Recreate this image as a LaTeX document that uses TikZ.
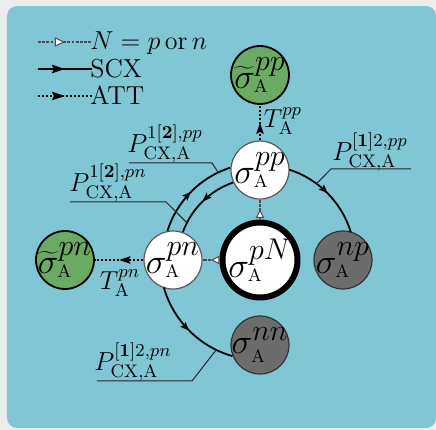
\RequirePackage{fix-cm}
\documentclass[tikz,border=0pt]{standalone}
\usetikzlibrary{arrows.meta,decorations.markings,calc}
\definecolor{bgout}{RGB}{235,236,238}
\definecolor{panel}{RGB}{128,198,212}
\definecolor{gfill}{RGB}{106,170,98}
\definecolor{dfill}{RGB}{108,108,108}
\newcommand{\sgm}[2]{$#1^{\mbox{\fontsize{15}{15}\selectfont$#2$}}_{\mbox{\fontsize{9}{9}\selectfont A}}$}
\begin{document}
\begin{tikzpicture}[x=0.5pt,y=0.5pt,
  midarrow/.style={postaction={decorate},decoration={markings,mark=at position 0.5 with {\arrow{#1}}}},
  wnode/.style={circle,draw=black!65,fill=white,line width=0.6pt,minimum size=29pt,inner sep=0pt},
  gnode/.style={circle,draw=black,fill=gfill,line width=0.9pt,minimum size=29pt,inner sep=0pt},
  dnode/.style={circle,draw=black!80,fill=dfill,line width=0.6pt,minimum size=29pt,inner sep=0pt},
  bignode/.style={circle,draw=black,fill=white,line width=3pt,minimum size=37.5pt,inner sep=0pt},
  sig/.style={inner sep=0pt,font=\fontsize{17.5}{20}\selectfont},
  txt/.style={inner sep=0.5pt,font=\fontsize{13}{15}\selectfont},
  ndash/.style={draw=black!70,line width=0.7pt,dash pattern=on 1.4pt off 0.7pt},
  scx/.style={draw=black,line width=0.9pt},
  att/.style={draw=black,line width=1.1pt,dash pattern=on 1pt off 1pt},
  leader/.style={draw=black!85,line width=0.5pt},
  wtri/.tip={Triangle[fill=white,length=4.2pt,width=4.2pt,line width=0.5pt]},
  btri/.tip={Stealth[length=5.5pt,width=3.6pt,inset=0.8pt]},
  stri/.tip={Stealth[length=4.5pt,width=3.4pt,inset=0.8pt]}
]
\useasboundingbox (0,0) rectangle (436,430);
\fill[bgout] (0,0) rectangle (436,430);
\fill[panel,rounded corners=5pt] (7,2) rectangle (436,424);

% nodes
\node[bignode,label={[sig]center:\sgm{\sigma}{pN}}] (pN) at (260,170) {};
\node[wnode,label={[sig]center:\sgm{\sigma}{pp}}] (pp) at (260,260) {};
\node[wnode,label={[sig]center:\sgm{\sigma}{pn}}] (pn) at (173,170) {};
\node[dnode,label={[sig]center:\sgm{\sigma}{np}}] (np) at (343,170) {};
\node[dnode,label={[sig]center:\sgm{\sigma}{nn}}] (nn) at (260,85) {};
\node[gnode,label={[sig]center:\sgm{\widetilde{\sigma}}{pp}}] (gpp) at (260,355) {};
\node[gnode,label={[sig]center:\sgm{\widetilde{\sigma}}{pn}}] (gpn) at (65,170) {};

% N connectors
\draw[ndash,midarrow=wtri] (pN) -- (pp);
\draw[ndash,midarrow=wtri] (pN) -- (pn);

% ATT connectors
\draw[att,midarrow=btri] (pp) -- (gpp);
\draw[att,midarrow=btri] (pn) -- (gpn);
\node[txt] (tpp) at (283,309) {$T^{pp}_{\mathrm{A}}$};
\node[txt] (tpn) at (120,147) {$T^{pn}_{\mathrm{A}}$};

% SCX arcs
\coordinate (C) at (pN.center);
\draw[scx,midarrow=stri] ($(C)+(162.5:97)$) arc[start angle=162.5,end angle=108,radius=97];
\draw[scx,midarrow=stri] ($(C)+(109:82)$) arc[start angle=109,end angle=160,radius=82];
\draw[scx,midarrow=stri] ($(C)+(72:95)$) arc[start angle=72,end angle=17,radius=95];
\draw[scx,midarrow=stri] ($(C)+(196:100)$) arc[start angle=196,end angle=254,radius=100];

% leader lines and labels
\coordinate (k1) at ($(C)+(115.5:97)$);
\coordinate (k2) at ($(C)+(153:82)$);
\coordinate (k3) at ($(C)+(53.5:95)$);
\coordinate (k4) at ($(C)+(244:100)$);
\coordinate (h1a) at (129,267); \coordinate (h1b) at (212,267);
\coordinate (h2a) at (70,228);  \coordinate (h2b) at (166,228);
\coordinate (h3a) at (411,261); \coordinate (h3b) at (331,261);
\coordinate (h4a) at (97,49);   \coordinate (h4b) at (192,49);
\draw[leader] (h1a) -- (h1b) -- (k1);
\draw[leader] (h2a) -- (h2b) -- (k2);
\draw[leader] (h3a) -- (h3b) -- (k3);
\draw[leader] (h4a) -- (h4b) -- (k4);
\node[txt] (L1) at (165,286) {$P^{1[\mathbf{2}],pp}_{\mathrm{CX,A}}$};
\node[txt] (L2) at (108,247) {$P^{1[\mathbf{2}],pn}_{\mathrm{CX,A}}$};
\node[txt] (L3) at (370,278) {$P^{[\mathbf{1}]2,pp}_{\mathrm{CX,A}}$};
\node[txt] (L4) at (133,68) {$P^{[\mathbf{1}]2,pn}_{\mathrm{CX,A}}$};

% legend
\coordinate (a1) at (38,388); \coordinate (b1) at (92,388);
\coordinate (a2) at (38,361); \coordinate (b2) at (92,361);
\coordinate (a3) at (38,334); \coordinate (b3) at (92,334);
\draw[ndash,midarrow={Triangle[fill=white,length=5pt,width=4.6pt,line width=0.5pt]}] (a1) -- (b1);
\draw[scx,line width=1pt,midarrow={Stealth[length=6.5pt,width=4.2pt,inset=1pt]}] (a2) -- (b2);
\draw[att,line width=1pt,midarrow={Stealth[length=6.5pt,width=4.2pt,inset=1pt]}] (a3) -- (b3);
\node[txt,anchor=base west] (t1) at (89,380) {$N=p\,\mathrm{or}\,n$};
\node[txt,anchor=base west] (t2) at (89,353) {SCX};
\node[txt,anchor=base west] (t3) at (89,326) {ATT};
\end{tikzpicture}
\end{document}
